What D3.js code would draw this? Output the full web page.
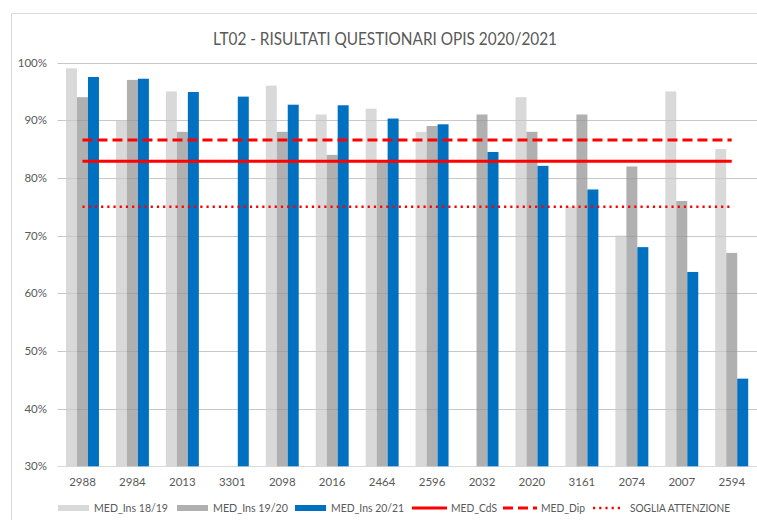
<!DOCTYPE html>
<html>
<head>
<meta charset="utf-8">
<script src="https://cdn.jsdelivr.net/npm/d3@7"></script>
<style>
  body { margin: 0; background: #fff; }
  text { font-family: Lato, "Open Sans", sans-serif; fill: #595959; }
</style>
</head>
<body>
<div id="chart"></div>
<script>
var categories = ['2988', '2984', '2013', '3301', '2098', '2016', '2464', '2596', '2032', '2020', '3161', '2074', '2007', '2594'];
var ins1819 = [99, 90, 95, null, 96, 91, 92, 88, null, 94, 75, 70, 95, 85];
var ins1920 = [94, 97, 88, null, 88, 84, 83, 89, 91, 88, 91, 82, 76, 67];
var ins2021 = [97.5, 97.2, 94.9, 94.1, 92.7, 92.6, 90.3, 89.3, 84.5, 82.1, 78, 68, 63.7, 45.2];
var barNames = ['MED_Ins 18/19', 'MED_Ins 19/20', 'MED_Ins 20/21'];
var lineNames = ['MED_CdS', 'MED_Dip', 'SOGLIA ATTENZIONE'];
var lineValues = [82.9, 86.6, 75];
var yTicks = [30, 40, 50, 60, 70, 80, 90, 100];

var width = 757;
var height = 520;
var barColors = ['#d9d9d9', '#b0b0b0', '#0070c0'];
var lineDash = [null, '10,5', '2.2,4'];

var svg = d3.select('#chart')
	.append('svg')
	.attr('width', width)
	.attr('height', height);

// chart frame
svg.append('rect')
	.attr('x', 11.5).attr('y', 13.5)
	.attr('width', 760).attr('height', 520)
	.attr('fill', 'none')
	.attr('stroke', '#d9d9d9');

svg.append('text')
	.attr('x', 385).attr('y', 45)
	.attr('text-anchor', 'middle')
	.attr('textLength', 344)
	.attr('lengthAdjust', 'spacingAndGlyphs')
	.style('font-size', '16.5px')
	.text('LT02 - RISULTATI QUESTIONARI OPIS 2020/2021');

// scales
var x0 = d3.scaleBand()
	.domain(categories)
	.range([57.5, 756.7])
	.paddingInner(0.34)
	.paddingOuter(0.17);
var x1 = d3.scaleBand()
	.domain([0, 1, 2])
	.range([0, x0.bandwidth()]);
var y = d3.scaleLinear()
	.domain([30, 100])
	.range([466.3, 62.6]);

// gridlines
svg.append('g')
	.selectAll('line')
	.data(yTicks)
	.enter()
	.append('line')
	.attr('x1', 57.5).attr('x2', 757)
	.attr('y1', function (d) { return Math.round(y(d)) + 0.5; })
	.attr('y2', function (d) { return Math.round(y(d)) + 0.5; })
	.attr('stroke', '#d9d9d9');

// y labels
svg.append('g')
	.selectAll('text')
	.data(yTicks)
	.enter()
	.append('text')
	.attr('x', 47)
	.attr('y', function (d) { return y(d); })
	.attr('dy', '0.35em')
	.attr('text-anchor', 'end')
	.style('font-size', '11.5px')
	.text(function (d) { return d + '%'; });

// x labels
svg.append('g')
	.selectAll('text')
	.data(categories)
	.enter()
	.append('text')
	.attr('x', function (d) { return x0(d) + x0.bandwidth() / 2; })
	.attr('y', 482)
	.attr('dy', '0.35em')
	.attr('text-anchor', 'middle')
	.style('font-size', '11.5px')
	.text(function (d) { return d; });

// bars
var series = [ins1819, ins1920, ins2021];
series.forEach(function (vals, s) {
	var g = svg.append('g');
	g.selectAll('rect')
		.data(categories)
		.enter()
		.filter(function (c, i) { return vals[i] != null; })
		.append('rect')
		.attr('x', function (c) { return x0(c) + x1(s); })
		.attr('width', x1.bandwidth())
		.attr('y', function (c) { return y(vals[categories.indexOf(c)]); })
		.attr('height', function (c) { return y(30) - y(vals[categories.indexOf(c)]); })
		.attr('fill', barColors[s]);
	if (s === 1) {
		// gridlines showing through the grey bars
		svg.append('g')
			.selectAll('line')
			.data(yTicks.slice(1))
			.enter()
			.append('line')
			.attr('x1', 57.5).attr('x2', 757)
			.attr('y1', function (d) { return Math.round(y(d)) + 0.5; })
			.attr('y2', function (d) { return Math.round(y(d)) + 0.5; })
			.attr('stroke', '#000')
			.attr('stroke-opacity', 0.08);
	}
});

// reference lines
var xFirst = x0(categories[0]) + x0.bandwidth() / 2;
var xLast = x0(categories[categories.length - 1]) + x0.bandwidth() / 2;
lineValues.forEach(function (v, i) {
	svg.append('line')
		.attr('x1', xFirst).attr('x2', xLast)
		.attr('y1', y(v)).attr('y2', y(v))
		.attr('stroke', '#ff0000')
		.attr('stroke-width', i === 2 ? 2.5 : 3)
		.attr('stroke-dasharray', lineDash[i]);
});

// legend
var legendY = 508;
var barLegendX = [58, 177, 295];
var barTextW = [74, 75, 73];
barNames.forEach(function (n, i) {
	svg.append('rect')
		.attr('x', barLegendX[i]).attr('y', legendY - 3)
		.attr('width', 31).attr('height', 6)
		.attr('fill', barColors[i]);
	svg.append('text')
		.attr('x', barLegendX[i] + 36).attr('y', legendY)
		.attr('dy', '0.35em')
		.attr('textLength', barTextW[i])
		.attr('lengthAdjust', 'spacingAndGlyphs')
		.style('font-size', '12px')
		.text(n);
});
var lineLegendX = [412, 503, 593];
var lineLegendW = [35, 34, 29];
var lineTextW = [46, 44, 100];
lineNames.forEach(function (n, i) {
	svg.append('line')
		.attr('x1', lineLegendX[i]).attr('x2', lineLegendX[i] + lineLegendW[i])
		.attr('y1', legendY).attr('y2', legendY)
		.attr('stroke', '#ff0000')
		.attr('stroke-width', i === 2 ? 2.5 : 3)
		.attr('stroke-dasharray', lineDash[i]);
	svg.append('text')
		.attr('x', lineLegendX[i] + lineLegendW[i] + (i === 2 ? 8 : 4)).attr('y', legendY)
		.attr('dy', '0.35em')
		.attr('textLength', lineTextW[i])
		.attr('lengthAdjust', 'spacingAndGlyphs')
		.style('font-size', '12px')
		.text(n);
});
</script>
</body>
</html>
